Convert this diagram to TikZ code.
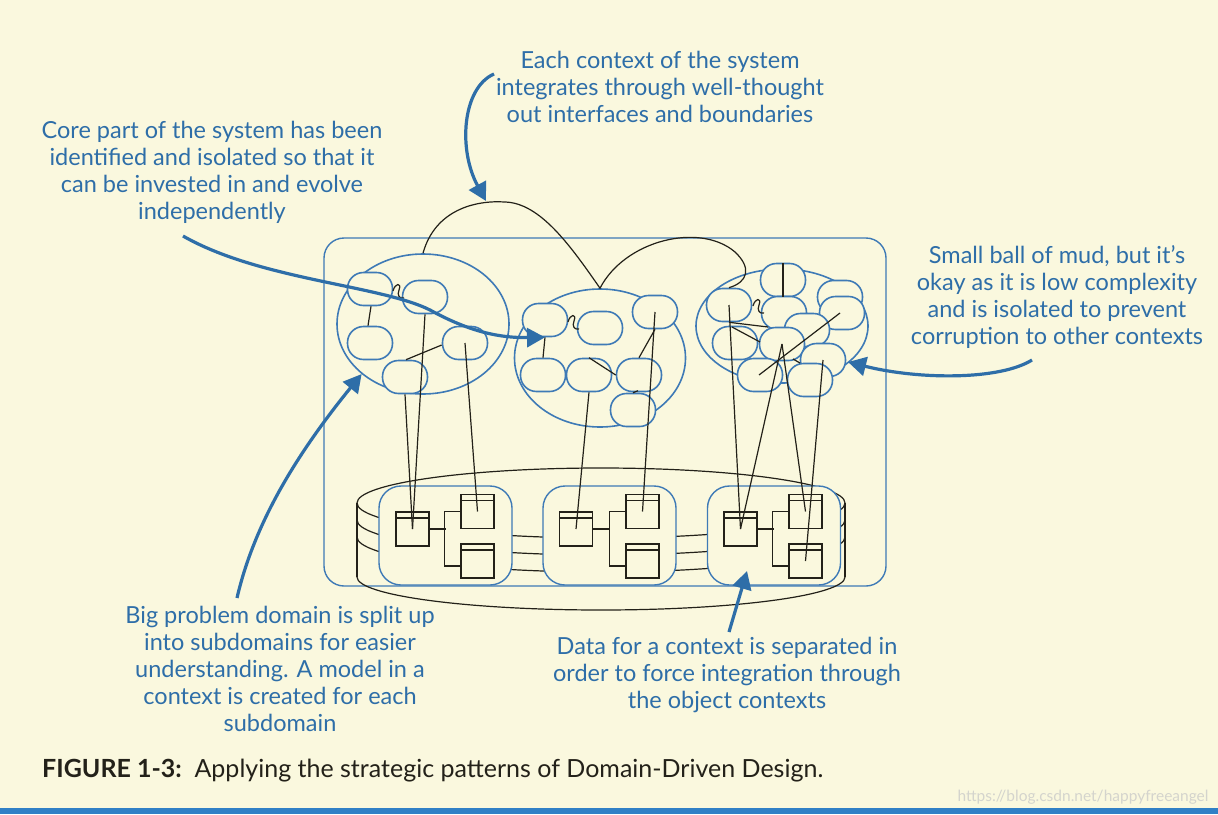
\documentclass[tikz,border=0pt]{standalone}
\usepackage{fontspec}
\setmainfont{Lato}
\usetikzlibrary{arrows.meta, shapes.geometric}
\definecolor{dddcream}{RGB}{250,248,222}
\definecolor{dddblue}{RGB}{62,122,182}
\definecolor{dddtext}{RGB}{46,110,168}
\definecolor{dddink}{RGB}{35,33,25}
\definecolor{dddbar}{RGB}{48,128,198}
\definecolor{dddmark}{RGB}{212,212,205}

\begin{document}
\begin{tikzpicture}[
    x=1pt, y=-1pt,
    ctx/.style={ellipse, draw=dddblue, line width=1.6pt, inner sep=0pt},
    obj/.style={rectangle, rounded corners=16pt, draw=dddblue, fill=dddcream, line width=1.6pt, minimum width=45pt, minimum height=33pt, inner sep=0pt},
    store/.style={rectangle, rounded corners=22pt, draw=dddblue, fill=dddcream, line width=1.4pt, minimum width=133pt, minimum height=99pt, inner sep=0pt},
    tbl/.style={rectangle, draw=dddink, fill=dddcream, line width=1.3pt, minimum width=33pt, minimum height=34pt, inner sep=0pt,
        path picture={\draw[dddink, line width=1.3pt] ([yshift=-6pt]path picture bounding box.north west) -- ([yshift=-6pt]path picture bounding box.north east);}},
    link/.style={draw=dddink, line width=1.2pt},
    callout/.style={draw=dddtext, line width=3.2pt, -{Triangle[length=18pt, width=19pt]}},
    note/.style={text=dddtext, font=\fontsize{23.5}{27}\selectfont, align=center, inner sep=0pt}
]
    % Background
    \fill[dddcream] (0,0) rectangle (1218,814);
    \useasboundingbox (0,0) rectangle (1218,814);
    \fill[dddbar] (0,808) rectangle (1218,814);

    % System boundary
    \draw[dddblue, line width=1.4pt, rounded corners=20pt] (324,238) rectangle (886,586);

    % Contexts
    \node[ctx, minimum width=172pt, minimum height=140pt] (ctx1) at (423,324) {};
    \node[ctx, minimum width=171pt, minimum height=138pt] (ctx2) at (600,358) {};
    \node[ctx, minimum width=172pt, minimum height=114pt] (ctx3) at (782,326) {};

    % Database
    \draw[link] (357,503) -- (357,577);
    \draw[link] (845,503) -- (845,577);
    \draw[link] (601,503) ellipse [x radius=244pt, y radius=35pt];
    \draw[link] (357,520) arc [start angle=180, end angle=360, x radius=244pt, y radius=35pt];
    \draw[link] (357,537) arc [start angle=180, end angle=360, x radius=244pt, y radius=35pt];
    \draw[link] (357,577) arc [start angle=180, end angle=360, x radius=244pt, y radius=33pt];

    % Data stores
    \node[store] (db1) at (445.5,535.5) {};
    \node[store] (db2) at (609.5,535.5) {};
    \node[store] (db3) at (774,535.5) {};

    \node[tbl] (t1a) at (412.5,529) {};
    \node[tbl] (t1b) at (477.5,511.5) {};
    \node[tbl] (t1c) at (477.5,561) {};
    \node[tbl] (t2a) at (576,529) {};
    \node[tbl] (t2b) at (642.5,511.5) {};
    \node[tbl] (t2c) at (642.5,561) {};
    \node[tbl] (t3a) at (740.5,529) {};
    \node[tbl] (t3b) at (805.5,511.5) {};
    \node[tbl] (t3c) at (805.5,561) {};

    \foreach \s in {1,2,3} {
        \draw[link] (t\s a.east) -- ++(16,0);
        \draw[link] (t\s b.west) -- ++(-16,0) |- ([yshift=-5pt]t\s c.west);
    }

    % Context 1 objects
    \node[obj] (c1a) at (370,289) {};
    \node[obj] (c1b) at (425,297) {};
    \node[obj] (c1c) at (370,343) {};
    \node[obj] (c1d) at (465,343) {};
    \node[obj] (c1e) at (405,377) {};

    % Context 2 objects
    \node[obj] (c2a) at (545,320) {};
    \node[obj] (c2b) at (600,328) {};
    \node[obj] (c2c) at (655,312) {};
    \node[obj] (c2d) at (543,375) {};
    \node[obj] (c2e) at (589,375) {};
    \node[obj] (c2f) at (639,375) {};
    \node[obj] (c2g) at (633,410) {};

    % Context 3 objects (ball of mud)
    \node[obj] (c3a) at (783,280) {};
    \node[obj] (c3b) at (729,305) {};
    \node[obj] (c3c) at (784,313) {};
    \node[obj] (c3d) at (840,297) {};
    \node[obj] (c3e) at (842,313) {};
    \node[obj] (c3f) at (807,330) {};
    \node[obj] (c3g) at (735,343) {};
    \node[obj] (c3h) at (782,344) {};
    \node[obj] (c3i) at (823,360) {};
    \node[obj] (c3j) at (760,375) {};
    \node[obj] (c3k) at (810,380) {};

    % Links inside contexts
    \draw[link] ([xshift=1pt]c1a.south) -- ([xshift=-2pt]c1c.north);
    \draw[link] ([xshift=1pt]c1e.north) -- ([yshift=-2pt]c1d.west);
    \draw[link] (c2a.south) -- (c2d.north);
    \draw[link] (c2e.north) -- (c2f.west);
    \draw[link] (c2f.north) -- (c2c.south);
    \draw[link] (c2g.north) -- ++(5,-2);
    \draw[link] (783,263) -- (c3a.south);
    \draw[link] (c3b.south) -- (768,327);
    \draw[link] (732,327) -- (760,342);
    \draw[link] (759,375) -- (840,313);
    \draw[link] (793,359) -- (800,363);

    % Squiggles between objects
    \draw[link] (393,291) .. controls (395,283) and (402,282) .. (399,290) .. controls (397,295) and (399,299) .. (404,298);
    \draw[link] (568,322) .. controls (570,314) and (577,313) .. (574,321) .. controls (572,326) and (574,330) .. (579,329);
    \draw[link] (753,306) .. controls (755,298) and (762,297) .. (759,305) .. controls (757,310) and (759,314) .. (764,313);

    % Links to data
    \draw[link] (c1e.south) -- (t1a.center);
    \draw[link] (c1b.south) -- (t1a.center);
    \draw[link] (c1d.center) -- (t1b.center);
    \draw[link] (c2e.south) -- (t2a.center);
    \draw[link] (c2c.center) -- (t2b.center);
    \draw[link] (c3b.center) -- (t3a.center);
    \draw[link] (c3h.center) -- (t3a.center);
    \draw[link] (c3h.center) -- (t3b.center);
    \draw[link] (c3i.center) -- (t3c.center);

    % Interfaces between contexts
    \draw[link] (ctx1.north) .. controls (435,210) and (475,200) .. (505,202) .. controls (540,203) and (570,245) .. (ctx2.north)
        .. controls (625,240) and (700,222) .. (735,252) .. controls (752,268) and (748,282) .. (c3b.north);

    % Notes
    \node[note] (notetop) at (660,87) {Each context of the system\\integrates through well-thought\\out interfaces and boundaries};
    \node[note] (notecore) at (212,172) {Core part of the system has been\\identified and isolated so that it\\can be invested in and evolve\\independently};
    \node[note] (notemud) at (1057,297) {Small ball of mud, but it’s\\okay as it is low complexity\\and is isolated to prevent\\corruption to other contexts};
    \node[note] (notesplit) at (280,669) {Big problem domain is split up\\into subdomains for easier\\understanding. A model in a\\context is created for each\\subdomain};
    \node[note] (notedata) at (727,675) {Data for a context is separated in\\order to force integration through\\the object contexts};

    % Arrows
    \coordinate (atop) at (494,74);
    \coordinate (acore) at (183,236);
    \coordinate (asplit) at (237,598);
    \coordinate (adata) at (729,632);
    \coordinate (adatatip) at (747,571);
    \coordinate (amud) at (1032,360);
    \coordinate (amudtip) at (848,362);
    \draw[callout] (atop) .. controls (462,88) and (458,150) .. (486,201);
    \draw[callout] (acore) .. controls (260,280) and (380,285) .. (430,310) .. controls (470,332) and (500,338) .. (c2a.south);
    \draw[callout] (asplit) .. controls (255,520) and (300,450) .. (ctx1.south west);
    \draw[callout] (adata) -- (adatatip);
    \draw[callout] (amud) .. controls (1000,380) and (920,380) .. (amudtip);

    % Caption
    \node[anchor=west, inner sep=0pt, text=dddink, font=\fontsize{25}{28}\selectfont] (caption) at (42,771)
        {\textbf{FIGURE 1-3:}\ \ Applying the strategic patterns of Domain-Driven Design.};
    \node[inner sep=0pt, text=dddmark, font=\fontsize{15.5}{17}\selectfont] (mark) at (1083,797) {https://blog.csdn.net/happyfreeangel};
\end{tikzpicture}
\end{document}
